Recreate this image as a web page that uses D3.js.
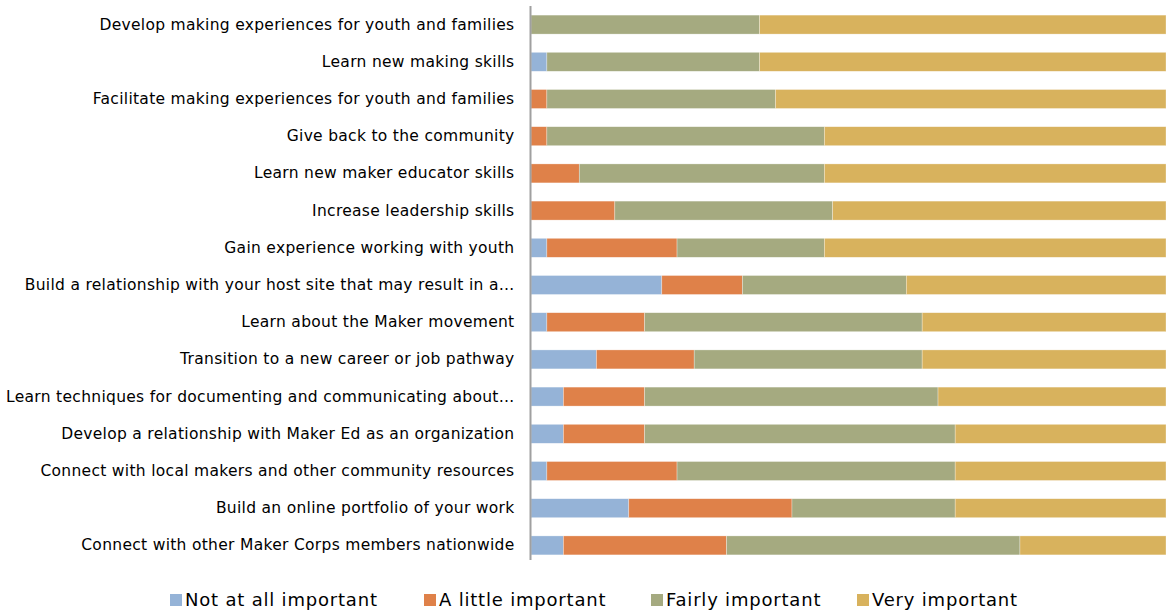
<!DOCTYPE html>
<html>
<head>
<meta charset="utf-8">
<script src="https://cdn.jsdelivr.net/npm/d3@7"></script>
<style>
  body { margin: 0; background: #fff; }
  text { font-family: "DejaVu Sans", sans-serif; }
</style>
</head>
<body>
<div id="chart"></div>
<script>
const width  = 1166
const height = 614

// categories, top to bottom
const items = [
  "Develop making experiences for youth and families",
  "Learn new making skills",
  "Facilitate making experiences for youth and families",
  "Give back to the community",
  "Learn new maker educator skills",
  "Increase leadership skills",
  "Gain experience working with youth",
  "Build a relationship with your host site that may result in a\u2026",
  "Learn about the Maker movement",
  "Transition to a new career or job pathway",
  "Learn techniques for documenting and communicating about\u2026",
  "Develop a relationship with Maker Ed as an organization",
  "Connect with local makers and other community resources",
  "Build an online portfolio of your work",
  "Connect with other Maker Corps members nationwide"
];

const levels = ["Not at all important", "A little important", "Fairly important", "Very important"];
const colours = ["#95b3d7", "#df8149", "#a5aa80", "#d8b25d"];

// percent of respondents, same order as items
const notAtAll = [0, 2.5, 0, 0, 0, 0, 2.5, 20.6, 2.5, 10.3, 5.1, 5.1, 2.5, 15.4, 5.1];
const aLittle  = [0, 0, 2.5, 2.5, 7.6, 13.2, 20.5, 12.7, 15.4, 15.4, 12.8, 12.8, 20.5, 25.7, 25.7];
const fairly   = [36.0, 33.5, 36.0, 43.7, 38.6, 34.3, 23.2, 25.8, 43.7, 35.9, 46.2, 48.9, 43.8, 25.7, 46.2];
const very     = [64.0, 64.0, 61.5, 53.8, 53.8, 52.5, 53.8, 40.9, 38.4, 38.4, 35.9, 33.2, 33.2, 33.2, 23.0];

const table = items.map((name, i) => ({
  name: name,
  "Not at all important": notAtAll[i],
  "A little important": aLittle[i],
  "Fairly important": fairly[i],
  "Very important": very[i]
}));

const series = d3.stack().keys(levels)(table);

const x = d3.scaleLinear()
  .domain([0, 100])
  .range([531, 1166]);

const y = d3.scaleBand()
  .domain(items)
  .range([6, 564])
  .paddingInner(0.49)
  .paddingOuter(0.245);

const colour = d3.scaleOrdinal(levels, colours);

const svg = d3.select("#chart").append("svg")
  .attr("width", width)
  .attr("height", height)
  .attr("viewBox", [0, 0, width, height]);

//draw bars
svg.append("g")
.selectAll("g")
.data(series)
.join("g")
  .attr("fill", d => colour(d.key))
.selectAll("rect")
.data(d => d)
.join("rect")
  .attr("x", d => x(d[0]))
  .attr("y", d => y(d.data.name))
  .attr("width", d => x(d[1]) - x(d[0]))
  .attr("height", y.bandwidth())
  .attr("stroke", "#ffffff")
  .attr("stroke-opacity", 0.5)
  .attr("stroke-width", 0.6);

//draw axis
svg.append("g")
  .attr("transform", "translate(530.5,0)")
  .call(d3.axisLeft(y).tickSize(0).tickPadding(16))
  .call(g => g.select(".domain")
    .attr("d", "M0,6V560")
    .attr("stroke", "#a0a0a0")
    .attr("stroke-width", 2))
  .call(g => g.selectAll("text")
    .attr("font-family", "DejaVu Sans, sans-serif")
    .attr("font-size", 15.5)
    .attr("letter-spacing", 0.3)
    .attr("fill", "#000"));

//legend
const legend = svg.append("g")
.selectAll("g")
.data(levels)
.join("g")
  .attr("transform", (d, i) => `translate(${[170, 424, 651, 857][i]},600)`);

legend.append("rect")
  .attr("x", 0)
  .attr("y", -6)
  .attr("width", 12)
  .attr("height", 12)
  .attr("fill", d => colour(d));

legend.append("text")
  .attr("x", 15)
  .attr("dy", "0.35em")
  .attr("font-size", 18)
  .attr("letter-spacing", 0.8)
  .attr("fill", "#000")
  .text(d => d);
</script>
</body>
</html>
